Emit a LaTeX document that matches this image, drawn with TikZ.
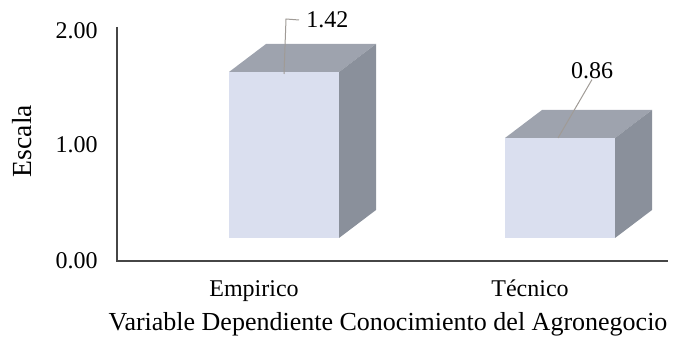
\documentclass[tikz,border=0pt]{standalone}
\usepackage{fontspec}
\setmainfont{Liberation Serif}
\usepackage{tikz}
\usetikzlibrary{positioning,calc}
\definecolor{barfront}{RGB}{218,223,239}
\definecolor{bartop}{RGB}{158,163,174}
\definecolor{barside}{RGB}{138,144,155}
\definecolor{axisgray}{RGB}{70,70,70}
\definecolor{leadergray}{RGB}{160,155,150}

\begin{document}
\begin{tikzpicture}[x=0.5pt, y=-0.5pt,
  tick/.style={anchor=east, inner sep=0pt, font=\fontsize{12}{14}\selectfont},
  category/.style={anchor=base, inner sep=0pt, font=\fontsize{12}{14}\selectfont},
  value/.style={inner sep=0pt, font=\fontsize{12}{14}\selectfont},
  leader/.style={leadergray, line width=0.5pt},
  axis/.style={axisgray, line width=0.8pt}
]
\useasboundingbox (0,0) rectangle (681,340);
% Bars
\foreach \xl/\xr/\yt in {229/339/72, 505/615/138} {
  \fill[barfront] (\xl,\yt) rectangle (\xr,238);
  \fill[bartop] (\xl,\yt) -- ++(37,-28) -- (\xr+37,\yt-28) -- (\xr,\yt) -- cycle;
  \fill[barside] (\xr,\yt) -- (\xr+37,\yt-28) -- (\xr+37,210) -- (\xr,238) -- cycle;
}
% Axes
\coordinate (ytop) at (117,27);
\coordinate (origin) at (117,261);
\coordinate (xend) at (668,261);
\draw[axis] (ytop) -- (origin) -- (xend);
% Ticks
\node[tick] (t2) at (98,31) {2.00};
\node[tick] (t1) at (98,145) {1.00};
\node[tick] (t0) at (98,261) {0.00};
\node[rotate=90, inner sep=0pt, font=\fontsize{13.8}{16}\selectfont] (ylab) at (22,141) {Escala};
% Categories
\node[category] (emp) at (254,297) {Empirico};
\node[category] (tec) at (530,297) {Técnico};
\node[anchor=base, inner sep=0pt, font=\fontsize{13}{15}\selectfont] (xlab) at (388,331) {Variable Dependiente Conocimiento del Agronegocio};
% Values
\node[value, anchor=west] (v1) at (306,20) {1.42};
\node[value] (v2) at (592,71) {0.86};
\coordinate (p1) at (284,74);
\coordinate (p2) at (558,138);
\draw[leader] (p1) -- (286,19) -- ([xshift=-3.5pt]v1.west);
\draw[leader] (p2) -- (v2.south);
\end{tikzpicture}
\end{document}
